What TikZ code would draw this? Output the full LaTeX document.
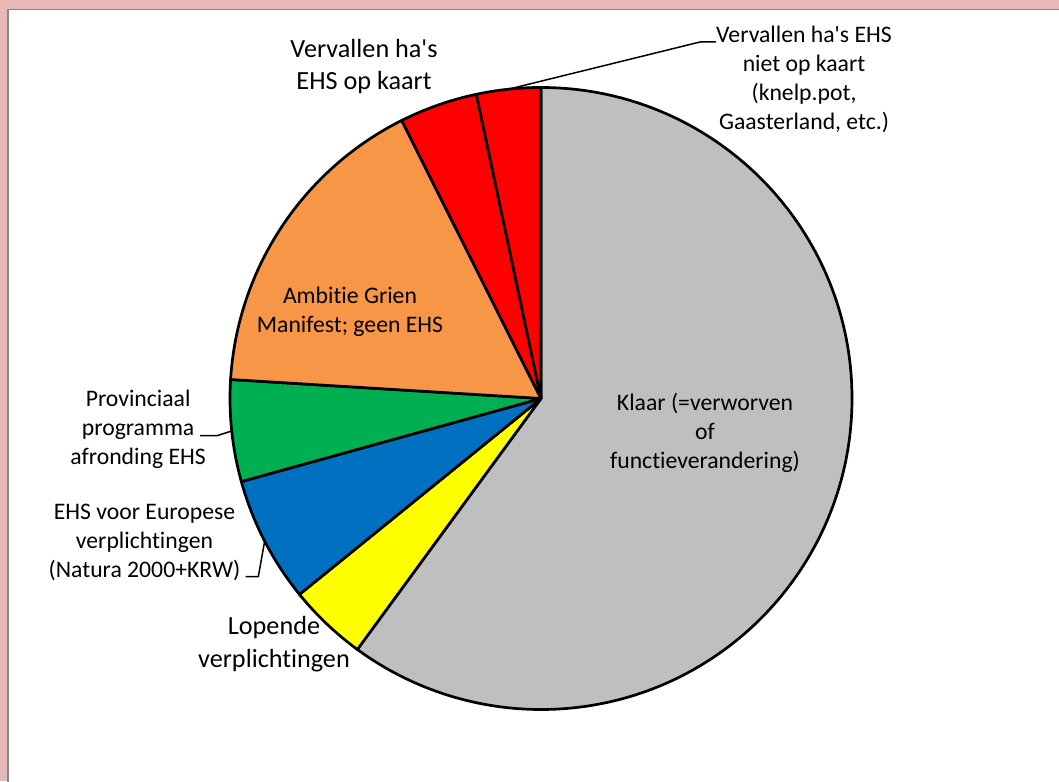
\documentclass[tikz,border=0pt]{standalone}
\usepackage{fontspec}
\setmainfont{Carlito}[RawFeature={-liga}]
\usetikzlibrary{calc}
\definecolor{pinkbg}{HTML}{E6B9B8}
\definecolor{framegray}{HTML}{878787}
\definecolor{slgray}{HTML}{BFBFBF}
\definecolor{slyellow}{HTML}{FFFF00}
\definecolor{slblue}{HTML}{0070C0}
\definecolor{slgreen}{HTML}{00B050}
\definecolor{slorange}{HTML}{F79646}
\definecolor{slred}{HTML}{FF0000}
\tikzset{
  slice/.style={draw=black, line width=2.7pt, line join=round},
  lbl/.style={font=\fontsize{23.7}{29}\selectfont, align=center, inner sep=0pt, text=black},
  biglbl/.style={font=\fontsize{26.2}{32.5}\selectfont, align=center, inner sep=0pt, text=black},
  leader/.style={draw=black, line width=1.5pt, line join=round}
}
\newcommand\myslice[3]{\filldraw[slice, fill=#1] (c) -- ++(#2:311) arc[start angle=#2, end angle=#3, radius=311] -- cycle;}
\newcommand\apo{\textquotesingle}
\begin{document}
\begin{tikzpicture}[x=1pt, y=1pt]
\useasboundingbox (0,0) rectangle (1059,781);
\clip (0,0) rectangle (1059,781);
% background and chart area
\fill[pinkbg] (0,0) rectangle (1059,781);
\fill[white] (9,-10) rectangle (1070,771);
\draw[framegray, line width=2pt] (8,-10) -- (8,771.5);
\draw[framegray, line width=1.2pt] (7,771.5) -- (1070,771.5);
% pie
\coordinate (c) at (541,382.5);
\myslice{slgray}{90}{-126.2}
\myslice{slyellow}{-126.2}{-140.95}
\myslice{slblue}{-140.95}{-164.5}
\myslice{slgreen}{-164.5}{-183.5}
\myslice{slorange}{-183.5}{-243.4}
\myslice{slred}{-243.4}{-258}
\myslice{slred}{-258}{-270}
% labels inside
\node[lbl] (klaar) at (705,348) {Klaar (=verworven\\of\\functieverandering)};
\node[lbl] (ambitie) at (350,469.5) {Ambitie Grien\\Manifest; geen EHS};
% labels outside
\node[biglbl] (vervop) at (364,714.5) {Vervallen ha\apo s\\EHS op kaart};
\node[lbl, anchor=west] (vervniet) at (716,702) {Vervallen ha\apo s EHS\\niet op kaart\\(knelp.pot,\\Gaasterland, etc.)};
\node[lbl, anchor=east] (prov) at (206,352) {Provinciaal\\programma\\afronding EHS};
\node[lbl, anchor=east] (ehs) at (240.5,239) {EHS voor Europese\\verplichtingen\\(Natura 2000+KRW)};
\node[biglbl] (lopende) at (274,137) {Lopende\\verplichtingen};
% leader lines
\coordinate (pRed) at ($(c)+(96:311)$);
\coordinate (pGreen) at ($(c)+(186:311)$);
\coordinate (pBlue) at ($(c)+(207.3:311)$);
\coordinate (kRed) at (700,739);
\coordinate (kGreen) at (217,345.3);
\coordinate (kBlue) at (258.3,204.3);
\draw[leader] (pRed) -- (kRed) -- (kRed -| vervniet.west);
\draw[leader] (pGreen) -- (kGreen) -- ++(-17,0) coordinate (eGreen);
\draw[leader] (pBlue) -- (kBlue) -- ++(-12.6,0) coordinate (eBlue);
\end{tikzpicture}
\end{document}
